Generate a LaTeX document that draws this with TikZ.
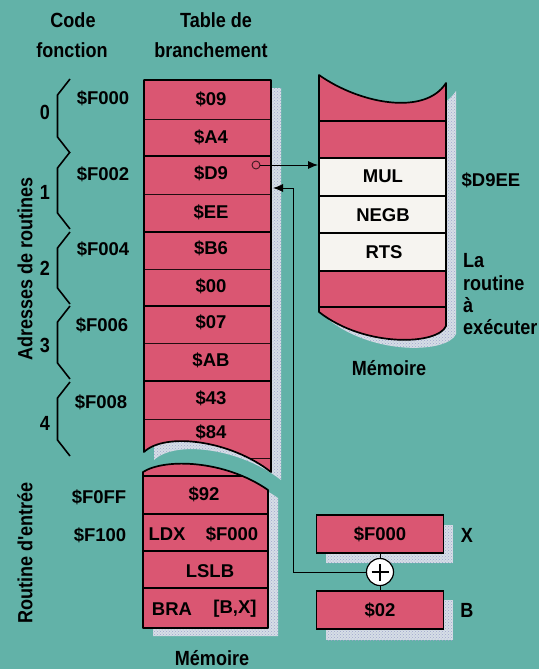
\documentclass[tikz,border=0pt]{standalone}
\usepackage{fontspec}
\setmainfont{Liberation Sans}
\newfontfamily\condfont{Liberation Sans}[FakeStretch=0.88]
\usetikzlibrary{arrows.meta,patterns}
\definecolor{bgc}{RGB}{98,178,168}
\definecolor{pinkc}{RGB}{218,86,114}
\definecolor{whc}{RGB}{246,244,240}
\definecolor{shc}{RGB}{214,222,230}
\definecolor{shdot}{RGB}{160,165,205}
\begin{document}
\begin{tikzpicture}[x=1pt,y=-1pt,
  val/.style={font=\bfseries\fontsize{18.5}{21}\selectfont, inner sep=0pt},
  lab/.style={font=\condfont\bfseries\fontsize{20.5}{24}\selectfont, inner sep=0pt},
  outline/.style={draw=black, line width=1.7pt, line join=round},
  thickrow/.style={line width=1.5pt},
  thinrow/.style={line width=0.8pt, draw=black!85!pinkc},
  brace/.style={line width=1.6pt, line join=miter},
  conn/.style={line width=0.9pt},
  shadowfill/.style={fill=shc, postaction={pattern=crosshatch dots, pattern color=shdot}},
  regbox/.style={draw=black, line width=1.6pt, fill=pinkc, minimum width=127pt, minimum height=38pt, inner sep=0pt, font=\bfseries\fontsize{18.5}{21}\selectfont}
]
\fill[bgc] (0,0) rectangle (539,669);
\useasboundingbox (0,0) rectangle (539,669);

\def\upperT{(144,80) -- (271,80) -- (271,472) .. controls (230,440) and (165,432) .. (144,452) -- cycle}
\def\lowerT{(143,472) .. controls (165,458) and (225,460) .. (268,490) -- (268,628) -- (143,628) -- cycle}
\def\memR{(319,75) .. controls (360,104) and (425,116) .. (446,83) -- (446,326) .. controls (438,345) and (365,348) .. (319,312) -- cycle}

% shadows
\path[shadowfill, shift={(10,8)}] \upperT;
\path[shadowfill, shift={(10,8)}] \lowerT;
\path[shadowfill, shift={(10,8)}] \memR;
\path[shadowfill] (326,525) rectangle (453,563);
\path[shadowfill] (326,600) rectangle (453,640);

% upper table
\begin{scope}
  \clip \upperT;
  \fill[pinkc] (130,70) rectangle (290,490);
  \foreach \yy in {156,232,306,381} \draw[thickrow] (130,\yy) -- (290,\yy);
  \foreach \yy in {119,194,269,343,419,458} \draw[thinrow] (130,\yy) -- (290,\yy);
\end{scope}
\draw[outline] \upperT;

% lower table
\begin{scope}
  \clip \lowerT;
  \fill[pinkc] (130,450) rectangle (290,640);
  \foreach \yy in {476,514,551,588} \draw[thickrow] (130,\yy) -- (290,\yy);
\end{scope}
\draw[outline] \lowerT;

% right memory
\begin{scope}
  \clip \memR;
  \fill[pinkc] (310,60) rectangle (460,360);
  \fill[whc] (310,158) rectangle (460,271);
  \foreach \yy in {121,158,196,233,271,307} \draw[thickrow] (310,\yy) -- (460,\yy);
\end{scope}
\draw[outline] \memR;

% titles
\node[lab, anchor=base] (t1a) at (73,28) {Code};
\node[lab, anchor=base] (t1b) at (72,58) {fonction};
\node[lab, anchor=base] (t2a) at (216,28) {Table de};
\node[lab, anchor=base] (t2b) at (211,58) {branchement};
\node[lab, rotate=90] (adr) at (25,269) {Adresses de routines};
\node[lab, rotate=90] (rte) at (25,553) {Routine d'entrée};

% braces and numbers
\foreach \t/\b in {79/153,152/229,232/304,306/379,382/456}
  \draw[brace] (70,\t) -- (57.5,\t+16) -- (57.5,\b-16) -- (70,\b);
\node[lab] (n0) at (45,112) {0};
\node[lab] (n1) at (45,192) {1};
\node[lab] (n2) at (45,268) {2};
\node[lab] (n3) at (45,345) {3};
\node[lab] (n4) at (45,423) {4};

% addresses
\node[val] (a0) at (103,98) {\$F000};
\node[val] (a1) at (103,174) {\$F002};
\node[val] (a2) at (103,249) {\$F004};
\node[val] (a3) at (102,325) {\$F006};
\node[val] (a4) at (101,402) {\$F008};
\node[val] (a5) at (99,497) {\$F0FF};
\node[val] (a6) at (100,535) {\$F100};

% table values
\node[val] (v0) at (211,99) {\$09};
\node[val] (v1) at (211,137) {\$A4};
\node[val] (v2) at (211,173) {\$D9};
\node[val] (v3) at (211,212) {\$EE};
\node[val] (v4) at (211,248) {\$B6};
\node[val] (v5) at (211,286) {\$00};
\node[val] (v6) at (211,322) {\$07};
\node[val] (v7) at (211,360) {\$AB};
\node[val] (v8) at (211,398) {\$43};
\node[val] (v9) at (211,432) {\$84};

\node[val] (w0) at (204,494) {\$92};
\node[val] (w1) at (167,534) {LDX};
\node[val] (w2) at (232,534) {\$F000};
\node[val] (w3) at (210,571) {LSLB};
\node[val] (w4) at (172,609) {BRA};
\node[val] (w5) at (235,609) {[B,X]};

% right memory texts
\node[val] (m1) at (383,176) {MUL};
\node[val] (m2) at (383,215) {NEGB};
\node[val] (m3) at (384,252) {RTS};
\node[val] (d9) at (491,180) {\$D9EE};
\node[lab, anchor=base west] (r1) at (463,267) {La};
\node[lab, anchor=base west] (r2) at (463,290) {routine};
\node[lab, anchor=base west] (r3) at (463,312) {à};
\node[lab, anchor=base west] (r4) at (463,334) {exécuter};
\node[lab, anchor=base] (mem1) at (389,375) {Mémoire};
\node[lab, anchor=base] (mem2) at (212,665) {Mémoire};

% registers
\node[regbox] (xreg) at (380,534) {\$F000};
\node[regbox] (breg) at (380,610) {\$02};
\node[lab] (xl) at (467,535) {X};
\node[lab] (bl) at (467,610) {B};
\node[circle, draw=black, line width=1.2pt, fill=white, minimum size=27pt, inner sep=0pt,
  path picture={
    \draw[line width=2.3pt] ([xshift=-8.5pt]path picture bounding box.center) -- ([xshift=8.5pt]path picture bounding box.center);
    \draw[line width=2.3pt] ([yshift=-8.5pt]path picture bounding box.center) -- ([yshift=8.5pt]path picture bounding box.center);
  }] (plus) at (380,572) {};

% connectors
\node[circle, draw=black!70!pinkc, line width=0.9pt, fill=pinkc, minimum size=8pt, inner sep=0pt] (ptr) at (256,165) {};
\coordinate (memin) at (318,165);
\coordinate (bend) at (293,188);
\coordinate (tgt) at (273,188);
\draw[conn, -{Latex[length=10pt,width=8pt]}] (ptr.east) -- (memin);
\draw[conn, -{Latex[length=10pt,width=8pt]}] (plus.west) -| (bend) -- (tgt);
\draw[conn] (xreg.south) -- (plus.north);
\draw[conn] (plus.south) -- (breg.north);
\end{tikzpicture}
\end{document}
